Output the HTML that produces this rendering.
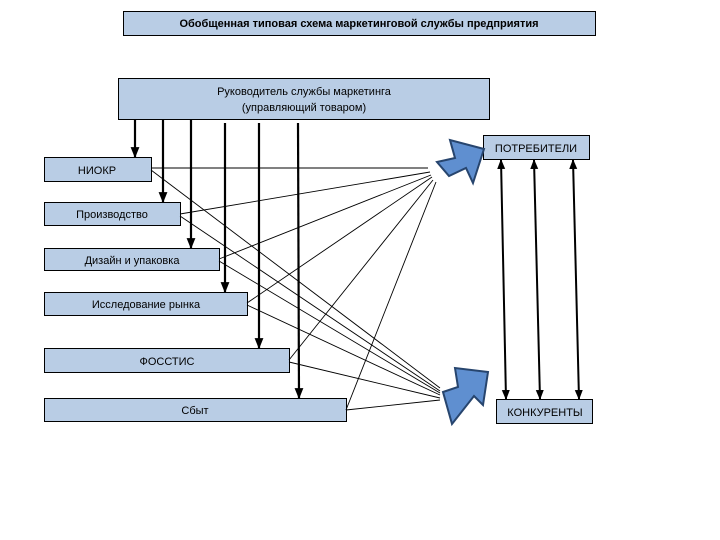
<!DOCTYPE html>
<html><head><meta charset="utf-8"><style>
html,body{margin:0;padding:0;background:#fff;}
svg{display:block;font-family:"Liberation Sans",sans-serif;}
</style></head><body>
<svg width="720" height="540" viewBox="0 0 720 540" xmlns="http://www.w3.org/2000/svg">
<defs>
<marker id="a" viewBox="0 0 10 10" refX="9" refY="5" markerWidth="5" markerHeight="5" orient="auto-start-reverse"><path d="M0,1 L10,5 L0,9z" fill="#000"/></marker>
</defs>
<g fill="#b9cde5" stroke="#000" stroke-width="1">
<rect x="123.5" y="11.5" width="472" height="24"/>
<rect x="118.5" y="78.5" width="371" height="41"/>
<rect x="483.5" y="135.5" width="106" height="24"/>
<rect x="496.5" y="399.5" width="96" height="24"/>
<rect x="44.5" y="157.5" width="107" height="24"/>
<rect x="44.5" y="202.5" width="136" height="23"/>
<rect x="44.5" y="248.5" width="175" height="22"/>
<rect x="44.5" y="292.5" width="203" height="23"/>
<rect x="44.5" y="348.5" width="245" height="24"/>
<rect x="44.5" y="398.5" width="302" height="23"/>
</g>
<g stroke="#000" stroke-width="2.2" marker-end="url(#a)">
<line x1="135" y1="119" x2="135" y2="157"/>
<line x1="163" y1="119" x2="163" y2="202"/>
<line x1="191" y1="119" x2="191" y2="248"/>
<line x1="225" y1="123" x2="225" y2="292"/>
<line x1="259" y1="123" x2="259" y2="348"/>
<line x1="298" y1="123" x2="299" y2="398"/>
</g>
<g stroke="#000" stroke-width="2" marker-end="url(#a)" marker-start="url(#a)">
<line x1="501" y1="160" x2="506" y2="399"/>
<line x1="534" y1="160" x2="540" y2="399"/>
<line x1="573" y1="160" x2="579" y2="399"/>
</g>
<g stroke="#000" stroke-width="0.9">
<line x1="151" y1="168" x2="428" y2="168"/>
<line x1="180" y1="214" x2="430" y2="172"/>
<line x1="219" y1="259" x2="431" y2="175"/>
<line x1="247" y1="303" x2="432" y2="177"/>
<line x1="289" y1="360" x2="433" y2="180"/>
<line x1="346" y1="410" x2="436" y2="182"/>
<line x1="151" y1="170" x2="440" y2="388"/>
<line x1="180" y1="216" x2="440" y2="391"/>
<line x1="219" y1="261" x2="440" y2="393"/>
<line x1="247" y1="305" x2="440" y2="395"/>
<line x1="289" y1="362" x2="440" y2="398"/>
<line x1="346" y1="410" x2="440" y2="400"/>
</g>
<g fill="#5f8fd0" stroke="#27456e" stroke-width="2">
<polygon points="437,162 455,158 450,140 484,149 473,183 466,168 449,176"/>
<polygon points="443,392 458,387 455,368 488,372 483,405 474,396 452,424"/>
</g>
<g font-size="11" fill="#000" text-anchor="middle">
<text x="359" y="27" font-weight="bold" font-size="11">Обобщенная типовая схема маркетинговой службы предприятия</text>
<text x="304" y="95">Руководитель службы маркетинга</text>
<text x="304" y="111">(управляющий товаром)</text>
<text x="536" y="152">ПОТРЕБИТЕЛИ</text>
<text x="545" y="416">КОНКУРЕНТЫ</text>
<text x="97" y="174">НИОКР</text>
<text x="112" y="218">Производство</text>
<text x="132" y="264">Дизайн и упаковка</text>
<text x="146" y="308">Исследование рынка</text>
<text x="167" y="365">ФОССТИС</text>
<text x="195" y="414">Сбыт</text>
</g>
</svg>
</body></html>
